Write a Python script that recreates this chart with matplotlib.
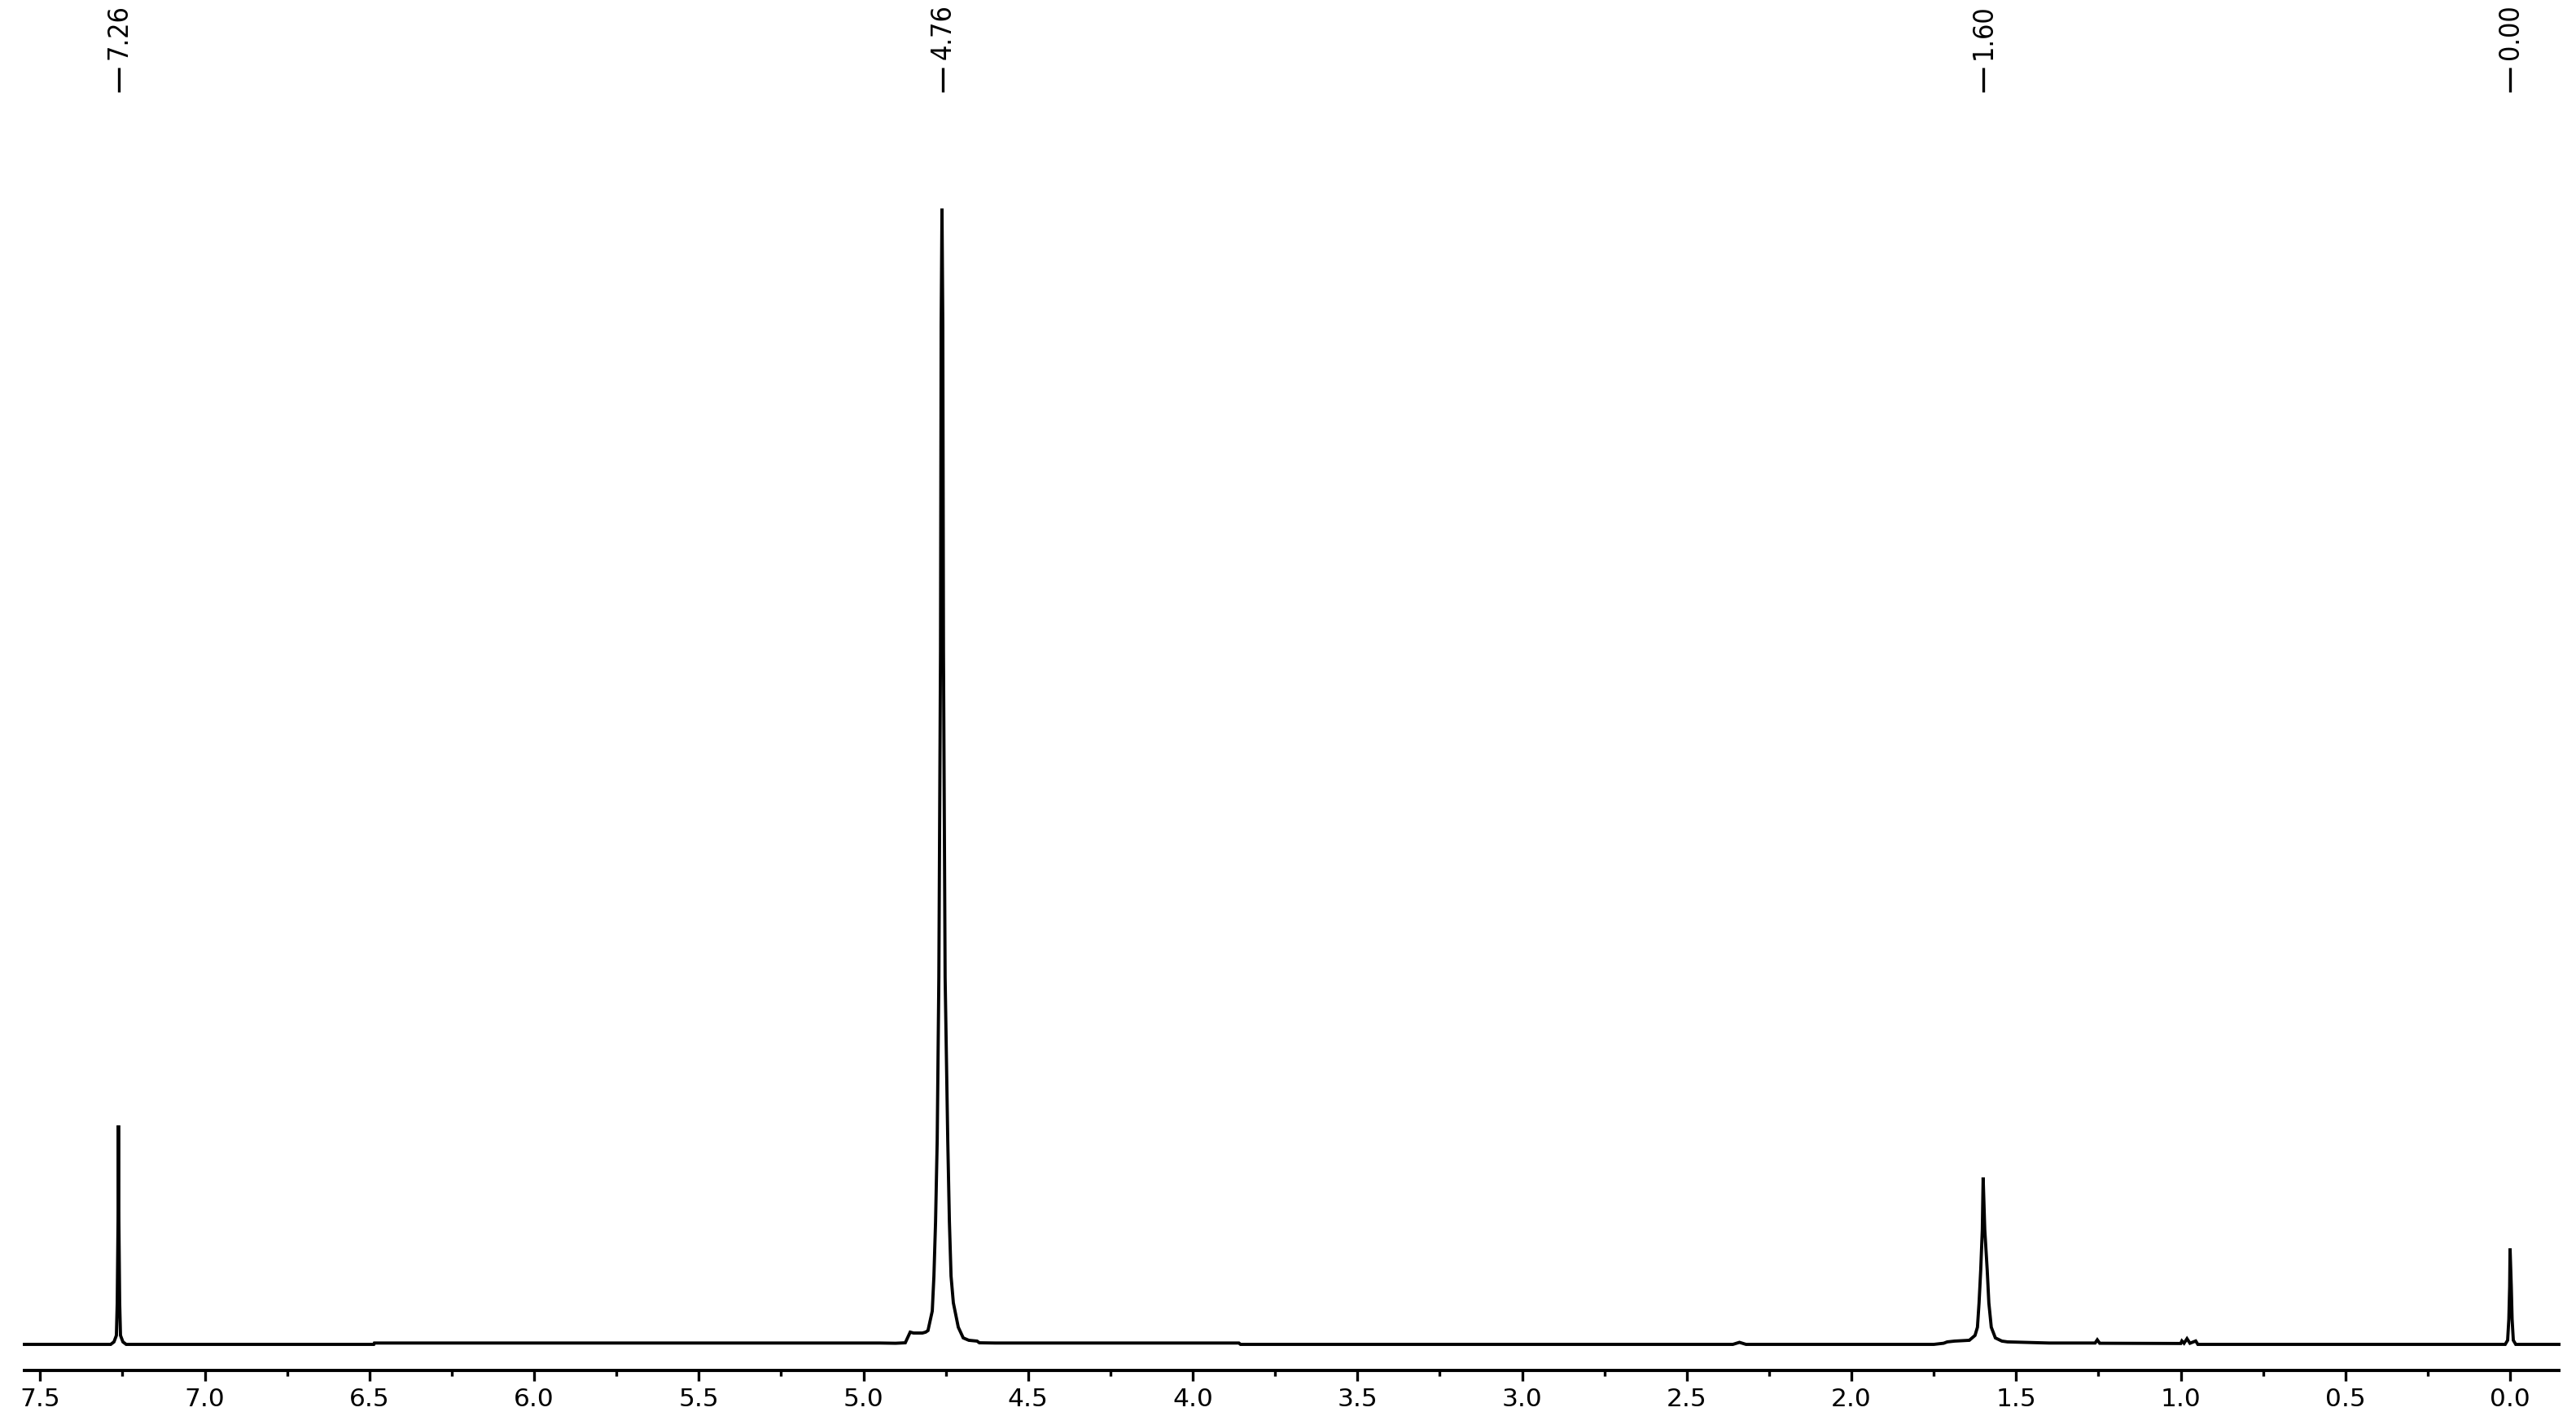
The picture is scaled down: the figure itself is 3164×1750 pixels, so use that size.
import matplotlib
matplotlib.use("Agg")
import matplotlib.pyplot as plt
from matplotlib.transforms import blended_transform_factory
from matplotlib.ticker import MultipleLocator, FormatStrFormatter
from matplotlib import font_manager

# ---------------- data (chemical shift in ppm, relative intensity in %) ----------------
base_left_ppm = [7.5477, 7.2857]
base_left_int = [0.0, 0.0]

peak_726_ppm = [7.2857, 7.2758, 7.2684, 7.2659, 7.2634, 7.2622, 7.2609, 7.2585, 7.2560, 7.2486, 7.2387]
peak_726_int = [0.0, 0.22, 0.79, 3.66, 10.82, 19.28, 10.82, 3.66, 0.79, 0.22, 0.0]

base_mid1_ppm = [7.2387, 6.487, 6.485, 4.95, 4.9025]
base_mid1_int = [0.0, 0.0, 0.12, 0.12, 0.10]

peak_476_ppm = [4.873, 4.858, 4.848, 4.821, 4.811, 4.804, 4.791, 4.786, 4.781, 4.776, 4.771,
                4.766, 4.764, 4.7615, 4.759, 4.757, 4.752, 4.744, 4.739, 4.734, 4.727, 4.712,
                4.697, 4.680, 4.655, 4.648]
peak_476_int = [0.14, 1.08, 1.00, 1.00, 1.08, 1.22, 2.94, 6.02, 10.82, 17.99, 32.33,
                61.00, 89.68, 100.0, 89.68, 61.00, 32.33, 17.99, 10.82, 6.02, 3.66, 1.51,
                0.57, 0.36, 0.29, 0.14]

base_mid2_ppm = [4.60, 3.86, 3.855, 2.36, 2.34, 2.32, 1.75, 1.72]
base_mid2_int = [0.12, 0.12, 0.0, 0.0, 0.18, 0.0, 0.0, 0.10]

peak_160_ppm = [1.709, 1.6865, 1.642, 1.6247, 1.6173, 1.6124, 1.6074, 1.6025, 1.600,
                1.5951, 1.5876, 1.5827, 1.5753, 1.5629, 1.5431, 1.5258]
peak_160_int = [0.22, 0.29, 0.36, 0.79, 1.51, 3.66, 6.52, 10.11, 14.70,
                10.11, 6.52, 3.66, 1.51, 0.57, 0.29, 0.22]

base_mid3_ppm = [1.40, 1.26, 1.2534, 1.246, 1.00, 0.9965, 0.990, 0.981, 0.972, 0.9545, 0.948, 0.90, 0.0148]
base_mid3_int = [0.12, 0.12, 0.40, 0.10, 0.08, 0.30, 0.10, 0.50, 0.10, 0.30, 0.0, 0.0, 0.0]

peak_000_ppm = [0.0074, 0.0037, 0.0012, 0.0, -0.0037, -0.0062, -0.0099, -0.0173]
peak_000_int = [0.36, 2.22, 5.09, 8.46, 5.09, 2.22, 0.36, 0.0]

base_right_ppm = [-0.0173, -0.1483]
base_right_int = [0.0, 0.0]

peak_label_ppm = [7.26, 4.76, 1.60, 0.00]
peak_labels = ["7.26", "4.76", "1.60", "0.00"]

# ---------------- figure ----------------
W, H = 3164, 1750
fig = plt.figure(figsize=(W / 100, H / 100), dpi=100)
fig.patch.set_facecolor("white")

ax_left_px, ax_right_px = 30, 3143
ax_bottom_px, ax_top_px = 1683, 150
ax = fig.add_axes([ax_left_px / W, (H - ax_bottom_px) / H,
                   (ax_right_px - ax_left_px) / W, (ax_bottom_px - ax_top_px) / H])

ppm = (base_left_ppm + peak_726_ppm + base_mid1_ppm + peak_476_ppm + base_mid2_ppm
       + peak_160_ppm + base_mid3_ppm + peak_000_ppm + base_right_ppm)
inten = (base_left_int + peak_726_int + base_mid1_int + peak_476_int + base_mid2_int
         + peak_160_int + base_mid3_int + peak_000_int + base_right_int)

ax.plot(ppm, inten, color="black", lw=2.8, solid_joinstyle="miter", clip_on=False)

ax.set_xlim(7.5477, -0.1483)
ax.set_ylim(-2.294, 107.6)

for s in ["left", "right", "top"]:
    ax.spines[s].set_visible(False)
ax.spines["bottom"].set_linewidth(2.8)
ax.set_yticks([])

ax.xaxis.set_major_locator(MultipleLocator(0.5))
ax.xaxis.set_minor_locator(MultipleLocator(0.25))
ax.xaxis.set_major_formatter(FormatStrFormatter("%.1f"))
ax.tick_params(axis="x", which="major", direction="out", length=9.4, width=2.4,
               pad=6.0, labelsize=22.5, colors="black")
ax.tick_params(axis="x", which="minor", direction="out", length=5, width=2.4)
for lab in ax.get_xticklabels():
    lab.set_fontfamily("DejaVu Sans")

# choose a narrow sans font for the peak labels if one is installed
label_fp = None
prefer = ["Liberation Sans Narrow", "DejaVu Sans", "Noto Sans", "Roboto", "Open Sans", "Lato"]
best = None
for f in font_manager.fontManager.ttflist:
    narrow = ("Narrow" in f.name) or (str(f.stretch) in ("condensed", "semi-condensed"))
    if not narrow or f.style != "normal":
        continue
    if f.weight not in (400, "normal", "regular"):
        continue
    fam = f.name
    rank = next((i for i, pname in enumerate(prefer) if fam.startswith(pname)), None)
    if rank is None:
        continue
    if best is None or rank < best[0]:
        best = (rank, f.fname)
if best is not None:
    label_fp = font_manager.FontProperties(fname=best[1], size=24.5)
else:
    label_fp = font_manager.FontProperties(family="Liberation Sans", size=23.0)

# peak labels on top
trans = blended_transform_factory(ax.transData, fig.transFigure)
for p, lab in zip(peak_label_ppm, peak_labels):
    ax.plot([p, p], [1 - 113 / H, 1 - 83 / H], transform=trans, color="black",
            lw=2.4, clip_on=False, solid_capstyle="butt")
    ax.text(p, 1 - 73 / H, lab, transform=trans, rotation=90, ha="center", va="bottom",
            fontproperties=label_fp, color="black")

fig.savefig("out.png", dpi=100, facecolor="white")
